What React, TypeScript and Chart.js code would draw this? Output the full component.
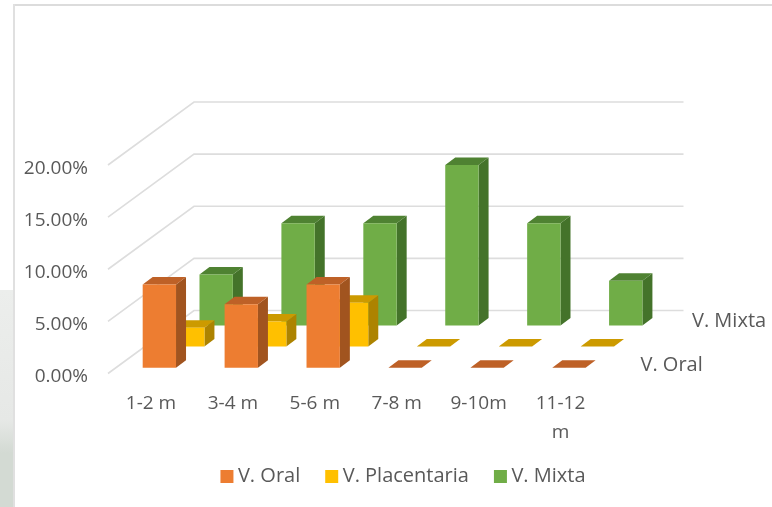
import React, { useEffect, useRef } from "react";
import { Chart, registerables } from "chart.js";

Chart.register(...registerables);

const categories = ["1-2 m", "3-4 m", "5-6 m", "7-8 m", "9-10m", ["11-12", "m"]];
const seriesNames = ["V. Oral", "V. Placentaria", "V. Mixta"];
const oral = [8.0, 6.1, 8.0, 0, 0, 0];
const placentaria = [1.8, 2.4, 4.2, 0, 0, 0];
const mixta = [4.9, 9.8, 9.8, 15.4, 9.8, 4.3];
const yTicksMax = 20;
const yTicksStep = 5;

const frontColors = ["#ED7D31", "#FFC000", "#70AD47"];
const topColors = ["#BE6127", "#CC9A00", "#4F8232"];
const sideColors = ["#A1541F", "#AD8300", "#44732A"];
const textColor = "#595959";
const gridColor = "#DDDDDD";
const fontFamily = "'Open Sans', Lato, sans-serif";
const fontSize = 19;
const nameFontSize = 20;

// 3D projection (styling offsets, in pixels)
const wallDx = 84;
const wallDy = 63;
const rowDx = [8.4, 36.8, 65.2];
const rowDy = [5.7, 27, 48];
const barDepthDx = 10;
const barDepthDy = 7.5;
const depthLabelDx = [39, null, 90.5];
const depthLabelY = [3, null, 4.3];

const poly = (ctx: CanvasRenderingContext2D, color: string, pts: number[][]) => {
  ctx.fillStyle = color;
  ctx.beginPath();
  pts.forEach(([x, y], i) => (i ? ctx.lineTo(x, y) : ctx.moveTo(x, y)));
  ctx.closePath();
  ctx.fill();
};

const plugin3d = {
  id: "plugin3d",
  beforeDraw(chart: any) {
    const lg = chart.legend;
    const w = lg.right - lg.left;
    lg.left = 105;
    lg.right = 105 + w;
    lg.top = 466.5 - lg.options.labels.padding;
  },
  beforeDatasetsDraw(chart: any) {
    const { ctx, chartArea, scales } = chart;
    const { left, right } = chartArea;
    ctx.save();
    ctx.strokeStyle = gridColor;
    ctx.lineWidth = 1.6;
    scales.y.ticks.forEach((t: any) => {
      const y = scales.y.getPixelForValue(t.value);
      ctx.beginPath();
      ctx.moveTo(left - 2, y);
      ctx.lineTo(left + wallDx, y - wallDy);
      ctx.lineTo(right + wallDx - 2, y - wallDy);
      ctx.stroke();
    });
    ctx.restore();
  },
  beforeDatasetDraw(chart: any, args: any) {
    const { ctx } = chart;
    const i = args.index;
    const dx = rowDx[i];
    const dy = rowDy[i];
    ctx.save();
    args.meta.data.forEach((el: any) => {
      const { x, y, base, width } = el.getProps(["x", "y", "base", "width"], true);
      const l = x - width / 2 + dx;
      const r = x + width / 2 + dx;
      const t = y - dy;
      const b = base - dy;
      poly(ctx, sideColors[i], [[r, t], [r + barDepthDx, t - barDepthDy], [r + barDepthDx, b - barDepthDy], [r, b]]);
      poly(ctx, topColors[i], [[l, t], [l + barDepthDx, t - barDepthDy], [r + barDepthDx, t - barDepthDy], [r, t]]);
      if (b - t > 0) poly(ctx, frontColors[i], [[l, t], [r, t], [r, b], [l, b]]);
    });
    ctx.restore();
    return false;
  },
  afterDatasetsDraw(chart: any) {
    const { ctx, chartArea, scales } = chart;
    ctx.save();
    ctx.fillStyle = textColor;
    ctx.font = `${nameFontSize}px ${fontFamily}`;
    ctx.textBaseline = "middle";
    ctx.textAlign = "left";
    seriesNames.forEach((name, i) => {
      const lx = depthLabelDx[i];
      if (lx === null) return;
      ctx.fillText(name, chartArea.right + lx, scales.y.getPixelForValue(0) - rowDy[i] - (depthLabelY[i] as number));
    });
    ctx.restore();
  },
};

export default function App() {
  const ref = useRef<HTMLCanvasElement>(null);
  useEffect(() => {
    const chart = new Chart(ref.current as HTMLCanvasElement, {
      type: "bar",
      data: {
        labels: categories as any,
        datasets: [
          { label: seriesNames[0], data: oral, backgroundColor: frontColors[0] },
          { label: seriesNames[1], data: placentaria, backgroundColor: frontColors[1] },
          { label: seriesNames[2], data: mixta, backgroundColor: frontColors[2] },
        ],
      },
      options: {
        responsive: false,
        animation: false,
        devicePixelRatio: 1,
        layout: { padding: { left: 0, right: 170.5, top: 165, bottom: -1 } },
        datasets: { bar: { grouped: false, barPercentage: 0.407, categoryPercentage: 1 } },
        scales: {
          x: {
            grid: { display: false },
            border: { display: false },
            afterFit: (s: any) => { s.height = 74; },
            ticks: {
              color: textColor,
              padding: 8,
              maxRotation: 0,
              autoSkip: false,
              font: { family: fontFamily, size: fontSize, lineHeight: 1.5 },
            },
          },
          y: {
            min: 0,
            max: yTicksMax,
            grid: { display: false, drawTicks: false },
            border: { display: false },
            afterFit: (s: any) => { s.width = 110; },
            ticks: {
              stepSize: yTicksStep,
              color: textColor,
              padding: 22,
              labelOffset: 3.5,
              font: { family: fontFamily, size: fontSize },
              callback: (v: any) => `${Number(v).toFixed(2)}%`,
            },
          },
        },
        plugins: {
          tooltip: { enabled: false },
          legend: {
            position: "bottom",
            labels: {
              color: textColor,
              font: { family: fontFamily, size: nameFontSize },
              usePointStyle: true,
              pointStyle: "rect",
              boxWidth: 2,
              boxHeight: 13,
              padding: 30.5,
            },
          },
        },
      } as any,
      plugins: [plugin3d as any],
    });
    return () => chart.destroy();
  }, []);

  return (
    <div style={{ position: "fixed", left: 0, top: 0, width: 772, height: 507, background: "#fff", overflow: "hidden" }}>
      <div style={{ position: "absolute", left: 0, top: 290, width: 13, height: 217, background: "linear-gradient(#eceeec, #e6e8e6 60%, #d3dad3 75%, #d3dad3)" }} />
      <div style={{ position: "absolute", left: 13, top: 4, width: 759, height: 2, background: "#DCDCDC" }} />
      <div style={{ position: "absolute", left: 13, top: 4, width: 2, height: 503, background: "#E0E0E0" }} />
      <canvas ref={ref} width={772} height={507} style={{ position: "absolute", left: 0, top: 0, display: "block" }} />
    </div>
  );
}
